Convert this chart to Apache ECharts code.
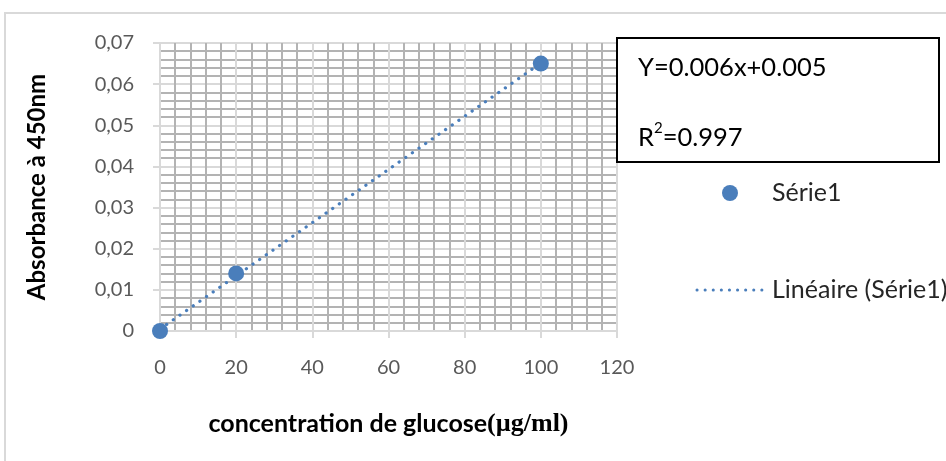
<!DOCTYPE html>
<html>
<head>
<meta charset="utf-8">
<script src="https://cdn.jsdelivr.net/npm/echarts@6/dist/echarts.min.js"></script>
<style>
  html, body { margin: 0; padding: 0; background: #fff; }
  #chart { width: 946px; height: 461px; }
</style>
</head>
<body>
<div id="chart"></div>
<script>
// Glucose calibration: concentration (µg/ml) vs absorbance at 450 nm
const concentrations = [0, 20, 100];
const absorbances = [0, 0.014, 0.065];

const seriesName = 'Série1';
const trendName = 'Linéaire (Série1)';
const equationText = 'Y=0.006x+0.005';
const r2Text = ['R', '2', '=0.997'];

const xTitle = ['concentration de glucose', '(µg/ml)'];
const yTitle = 'Absorbance à 450nm';

// least-squares fit over the measured points
function linearFit(xs, ys) {
  const n = xs.length;
  const mx = xs.reduce((a, b) => a + b, 0) / n;
  const my = ys.reduce((a, b) => a + b, 0) / n;
  let sxy = 0, sxx = 0;
  for (let i = 0; i < n; i++) {
    sxy += (xs[i] - mx) * (ys[i] - my);
    sxx += (xs[i] - mx) * (xs[i] - mx);
  }
  const slope = sxy / sxx;
  return { slope, intercept: my - slope * mx };
}
const fit = linearFit(concentrations, absorbances);
const xMin = Math.min(...concentrations), xMax = Math.max(...concentrations);
const trendPoints = [xMin, xMax].map(x => [x, fit.slope * x + fit.intercept]);
const scatterPoints = concentrations.map((x, i) => [x, absorbances[i]]);

const BLUE = '#4a7ebb';
const MAJOR = '#d9d9d9';
const MINOR = '#b3b3b3';
const FONT = 'Lato';
const DOTS = [0.1, 8];

const chart = echarts.init(document.getElementById('chart'), null, { renderer: 'canvas' });

const axisCommon = {
  axisLine: { show: true, lineStyle: { color: MAJOR, width: 2 } },
  axisTick: { show: true, length: 7, lineStyle: { color: MAJOR, width: 2 } },
  splitLine: { show: true, lineStyle: { color: MAJOR, width: 2 } },
  minorTick: { show: false, splitNumber: 5 },
  minorSplitLine: { show: true, lineStyle: { color: MINOR, width: 2 } }
};

// hand-drawn legend entries to the right of the plot
const legendGraphics = [
  {
    type: 'circle', silent: true,
    shape: { cx: 730, cy: 193, r: 8 },
    style: { fill: BLUE }
  },
  {
    type: 'text', silent: true,
    x: 772, y: 193,
    style: { text: seriesName, fontFamily: FONT, fontSize: 25, fill: '#262626', verticalAlign: 'middle' }
  },
  {
    type: 'line', silent: true,
    shape: { x1: 697, y1: 290, x2: 763, y2: 290 },
    style: { stroke: BLUE, lineWidth: 3, lineDash: DOTS, lineCap: 'round' }
  },
  {
    type: 'text', silent: true,
    x: 772, y: 290,
    style: { text: trendName, fontFamily: FONT, fontSize: 25, fill: '#262626', verticalAlign: 'middle' }
  }
];

chart.setOption({
  animation: false,
  backgroundColor: '#fff',
  grid: { left: 160, right: 329, top: 43, bottom: 130, containLabel: false },
  xAxis: Object.assign({
    type: 'value',
    min: 0, max: 120, interval: 20,
    axisLabel: { color: '#595959', fontSize: 20, fontFamily: FONT, margin: 27 },
    name: '{a|' + xTitle[0] + '}{b|' + xTitle[1] + '}',
    nameLocation: 'middle',
    nameGap: 80,
    nameTextStyle: {
      rich: {
        a: { fontFamily: FONT, fontWeight: 'bold', fontSize: 25, color: '#000' },
        b: { fontFamily: 'Liberation Serif', fontWeight: 'bold', fontSize: 26, color: '#000' }
      }
    }
  }, axisCommon),
  yAxis: Object.assign({
    type: 'value',
    min: 0, max: 0.07, interval: 0.01,
    axisLabel: {
      color: '#595959', fontSize: 20, fontFamily: FONT, margin: 26,
      formatter: v => (v === 0 ? '0' : v.toFixed(2).replace('.', ','))
    },
    name: yTitle,
    nameLocation: 'middle',
    nameRotate: 90,
    nameGap: 111,
    nameTextStyle: { fontFamily: FONT, fontWeight: 'bold', fontSize: 24, color: '#000' }
  }, axisCommon),
  graphic: [
    {
      type: 'rect', silent: true, z: -10,
      shape: { x: 5, y: 13, width: 1000, height: 500 },
      style: { fill: 'none', stroke: '#d9d9d9', lineWidth: 2 }
    },
    {
      type: 'rect', silent: true, z: 10,
      shape: { x: 617, y: 38, width: 322, height: 124 },
      style: { fill: '#fff', stroke: '#000', lineWidth: 2 }
    },
    {
      type: 'text', silent: true, z: 11,
      x: 638, y: 68,
      style: {
        text: equationText, fontFamily: FONT, fontSize: 25.5, fill: '#000',
        verticalAlign: 'middle', align: 'left'
      }
    },
    {
      type: 'text', silent: true, z: 11,
      x: 638, y: 136,
      style: {
        text: '{m|' + r2Text[0] + '}{s|' + r2Text[1] + '}{m|' + r2Text[2] + '}',
        verticalAlign: 'middle', align: 'left',
        rich: {
          m: { fontFamily: FONT, fontSize: 25.5, fill: '#000', color: '#000', verticalAlign: 'bottom', lineHeight: 30 },
          s: { fontFamily: FONT, fontSize: 15, fill: '#000', color: '#000', verticalAlign: 'top', lineHeight: 30 }
        }
      }
    }
  ].concat(legendGraphics),
  series: [
    {
      name: trendName,
      type: 'line',
      data: trendPoints,
      symbol: 'none',
      z: 2,
      lineStyle: { color: BLUE, width: 3.2, type: DOTS, cap: 'round' }
    },
    {
      name: seriesName,
      type: 'scatter',
      data: scatterPoints,
      symbol: 'circle',
      symbolSize: 16,
      z: 3,
      itemStyle: { color: BLUE, opacity: 1 }
    }
  ]
});
</script>
</body>
</html>
